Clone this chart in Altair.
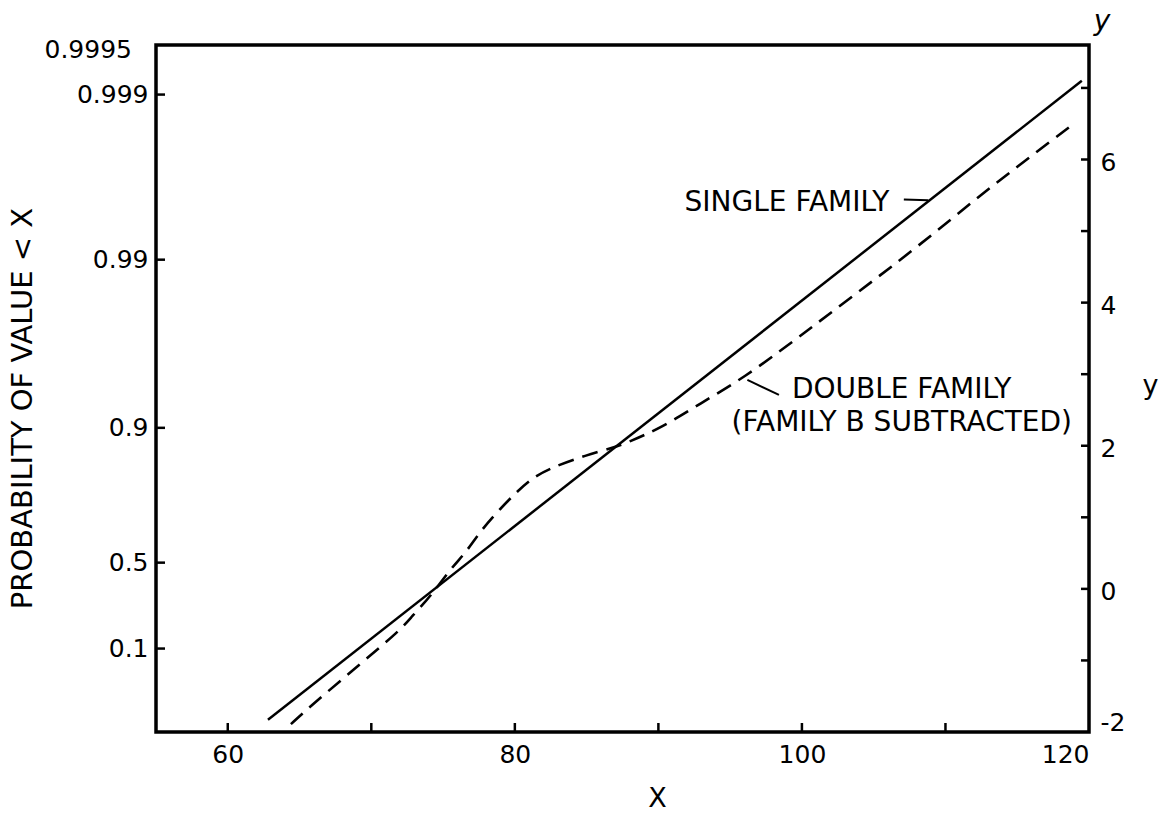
import math
import altair as alt
import pandas as pd

# Single-family fit: a straight line on the extreme-value (Gumbel) paper
single_x = [62.8, 119.5]
single_y = [-1.83, 7.10]

# Double family with family B subtracted
double_x = [64.4, 65.7, 69.4, 72.0, 72.8, 74.1, 75.6, 76.6, 77.5, 78.7, 80.1, 81.2,
            82.6, 85.0, 86.8, 87.8, 90.3, 92.9, 95.9, 99.8, 103.8, 108.0, 112.6, 115.6, 119.0]
double_y = [-1.89, -1.65, -1.02, -0.58, -0.39, -0.11, 0.30, 0.51, 0.78, 1.06, 1.35, 1.55,
            1.70, 1.87, 1.97, 2.04, 2.26, 2.59, 2.94, 3.52, 4.13, 4.77, 5.53, 5.99, 6.51]

# Axis values
x_labels = [60, 80, 100, 120]
x_ticks = [60, 70, 80, 90, 100, 110]
prob_ticks = [0.1, 0.5, 0.9, 0.99, 0.999]
prob_top = 0.9995
reduced_ticks = [-2, -1, 0, 1, 2, 3, 4, 5, 6, 7]

# Annotations
ann_text = ["SINGLE FAMILY", "DOUBLE FAMILY", "(FAMILY B SUBTRACTED)"]
ann_x = [106.1, 99.3, 95.1]
ann_y = [5.39, 2.78, 2.32]
leader_x = [107.1, 96.2]
leader_x2 = [108.8, 98.4]
leader_y = [5.44, 2.92]
leader_y2 = [5.43, 2.71]


def reduced(p):
    """Gumbel reduced variate y = -ln(-ln p)."""
    return -math.log(-math.log(p))


W, H = 933, 687
FONT = "DejaVu Sans"

xscale = alt.Scale(domain=[55, 120], nice=False, zero=False)
yscale = alt.Scale(domain=[-2, 7.6], nice=False, zero=False)

x_axis = alt.Axis(values=x_labels, ticks=False, domain=False, grid=False,
                  labelFontSize=25, labelPadding=10, labelColor="black",
                  title="X", titleFontSize=27, titleFontWeight="normal",
                  titleColor="black", titleX=501, titleY=66, titleBaseline="middle")
left_axis = alt.Axis(values=[reduced(p) for p in prob_ticks], ticks=False, domain=False,
                     grid=False, labelFontSize=25, labelPadding=8, labelColor="black",
                     labelExpr="format(exp(-exp(-datum.value)), '.4~f')",
                     title="PROBABILITY OF VALUE < X", titleFontSize=29,
                     titleFontWeight="normal", titleColor="black",
                     titleX=-134, titleY=363, titleAngle=270, titleBaseline="middle")
right_axis = alt.Axis(orient="right", values=reduced_ticks, ticks=False, domain=False,
                      grid=False, labelFontSize=25, labelPadding=11, labelColor="black",
                      labelExpr="datum.value % 2 == 0 ? replace(datum.label, '−', '-') : ''",
                      labelFlush=True, labelOffset=3,
                      title="y", titleFontSize=27, titleFontWeight="normal",
                      titleColor="black", titleAngle=0, titleX=61, titleY=340,
                      titleBaseline="middle")

X = alt.X("x:Q", scale=xscale, axis=x_axis)
Y_none = alt.Y("y:Q", scale=yscale, axis=None)

single_df = pd.DataFrame({"x": single_x, "y": single_y})
double_df = pd.DataFrame({"x": double_x, "y": double_y})

single = alt.Chart(single_df).mark_line(color="black", strokeWidth=2.5).encode(
    x=X, y=alt.Y("y:Q", scale=yscale, axis=left_axis)
)

double = alt.Chart(double_df).mark_line(
    color="black", strokeWidth=2.6, strokeDash=[16, 9], interpolate="basis"
).encode(x=X, y=Y_none)

# Inward ticks along the right edge (reduced variate), carries the right axis
right_ticks = alt.Chart(pd.DataFrame({"y": reduced_ticks[1:]})).mark_rule(
    color="black", strokeWidth=2.5
).encode(
    y=alt.Y("y:Q", scale=yscale, axis=right_axis),
    x=alt.value(W - 8), x2=alt.value(W),
)

# Inward ticks along the left edge (probability)
left_ticks = alt.Chart(pd.DataFrame({"y": [reduced(p) for p in prob_ticks]})).mark_rule(
    color="black", strokeWidth=2.5
).encode(y=Y_none, x=alt.value(0), x2=alt.value(9))

# Inward ticks along the bottom edge
bottom_ticks = alt.Chart(pd.DataFrame({"x": x_ticks})).mark_rule(
    color="black", strokeWidth=2.5
).encode(x=X, y=alt.value(H), y2=alt.value(H - 9))

# Top-left probability label
top_label = alt.Chart(pd.DataFrame({"y": [reduced(prob_top)], "t": [str(prob_top)]})).mark_text(
    font=FONT, fontSize=25, align="right", baseline="middle", dy=5, color="black"
).encode(y=Y_none, x=alt.value(-24), text="t:N")

# Top-right variate symbol
y_symbol = alt.Chart(pd.DataFrame({"t": ["y"]})).mark_text(
    font=FONT, fontSize=28, fontStyle="italic", align="center", baseline="middle",
    color="black"
).encode(x=alt.value(W + 13), y=alt.value(-23), text="t:N")

ann_df = pd.DataFrame({"x": ann_x, "y": ann_y, "t": ann_text})
ann_right = alt.Chart(ann_df.iloc[:1]).mark_text(
    font=FONT, fontSize=28, align="right", baseline="middle", color="black"
).encode(x=X, y=Y_none, text="t:N")
ann_left = alt.Chart(ann_df.iloc[1:]).mark_text(
    font=FONT, fontSize=28, align="left", baseline="middle", color="black"
).encode(x=X, y=Y_none, text="t:N")

leaders = alt.Chart(pd.DataFrame({"x": leader_x, "x2": leader_x2,
                                  "y": leader_y, "y2": leader_y2})).mark_rule(
    color="black", strokeWidth=2
).encode(x=X, x2="x2:Q", y=Y_none, y2="y2:Q")

chart = alt.layer(
    single, right_ticks, double, left_ticks, bottom_ticks,
    top_label, y_symbol, ann_right, ann_left, leaders
).resolve_axis(y="independent").properties(
    width=W, height=H,
    autosize=alt.AutoSizeParams(type="none"),
    padding={"left": 156, "top": 45, "right": 72, "bottom": 82},
    background="white",
).configure_view(
    stroke="black", strokeWidth=3.5
).configure_axis(
    labelFont=FONT, titleFont=FONT
)

chart.save("out.html", embed_options={"renderer": "svg", "actions": False})
